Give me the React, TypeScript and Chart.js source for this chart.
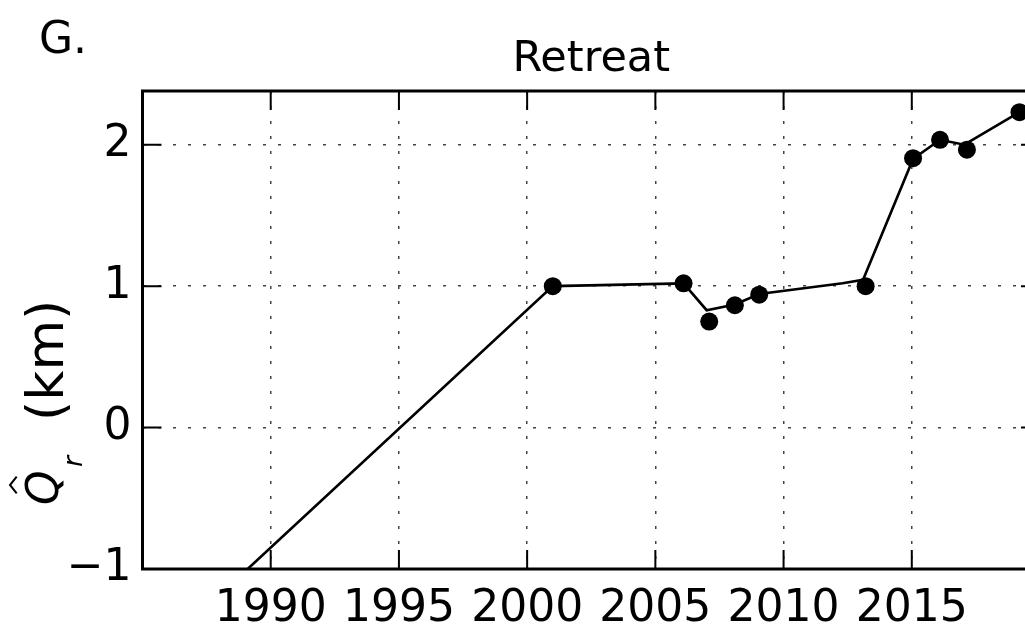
import React, { useEffect, useRef } from "react";
import { Chart, registerables } from "chart.js";

Chart.register(...registerables);

// ---- data ----
const lineYears = [1989.1, 2001, 2006.1, 2007.0, 2008.1, 2009.05, 2012.3, 2013.1, 2015.05, 2016.1, 2017.05, 2019.2];
const lineValues = [-1.0, 1.0, 1.02, 0.83, 0.87, 0.945, 1.02, 1.045, 1.9, 2.035, 2.0, 2.23];
const markerYears = [2001, 2006.1, 2007.1, 2008.1, 2009.05, 2013.2, 2015.05, 2016.1, 2017.15, 2019.2];
const markerValues = [1.0, 1.02, 0.75, 0.865, 0.94, 1.0, 1.905, 2.035, 1.965, 2.23];
const xTicks = [1990, 1995, 2000, 2005, 2010, 2015];
const yTicks = [-1, 0, 1, 2];
const xRange = [1985, 2020];
const yRange = [-1, 2.38];
const titleText = "Retreat";
const panelLabel = "G.";
const yLabelSymbol = "Q";
const yLabelSub = "r";
const yLabelUnit = "(km)";

const FONT = '"DejaVu Sans", sans-serif';

const decorPlugin = {
  id: "decor",
  afterDatasetsDraw(chart: any) {
    const { ctx, chartArea: a, scales } = chart;
    ctx.save();
    ctx.strokeStyle = "#000";
    ctx.setLineDash([]);
    const tl = 19;
    ctx.lineWidth = 2;
    ctx.beginPath();
    for (const v of xTicks) {
      const px = scales.x.getPixelForValue(v);
      ctx.moveTo(px, a.bottom);
      ctx.lineTo(px, a.bottom - tl);
      ctx.moveTo(px, a.top);
      ctx.lineTo(px, a.top + tl);
    }
    for (const v of yTicks) {
      const py = scales.y.getPixelForValue(v);
      ctx.moveTo(a.left, py);
      ctx.lineTo(a.left + tl, py);
      ctx.moveTo(a.right, py);
      ctx.lineTo(a.right - tl, py);
    }
    ctx.stroke();
    ctx.lineWidth = 3;
    ctx.strokeRect(a.left, a.top, a.right - a.left, a.bottom - a.top);
    ctx.restore();
  },
  afterDraw(chart: any) {
    const { ctx } = chart;
    ctx.save();
    ctx.fillStyle = "#000";
    ctx.strokeStyle = "#000";
    ctx.textAlign = "left";
    ctx.textBaseline = "alphabetic";
    // panel label
    ctx.font = `44px ${FONT}`;
    ctx.fillText(panelLabel, 39, 52.5);
    // y axis title (rotated)
    ctx.translate(63, 505);
    ctx.rotate(-Math.PI / 2);
    ctx.font = `italic 44px ${FONT}`;
    ctx.fillText(yLabelSymbol, 0, -5);
    ctx.font = `italic 27px ${FONT}`;
    ctx.fillText(yLabelSub, 38, 18.7);
    ctx.font = `52px ${FONT}`;
    ctx.fillText(yLabelUnit, 84, 0);
    ctx.lineWidth = 2;
    ctx.beginPath();
    ctx.moveTo(11.7, -46.3);
    ctx.lineTo(20, -53);
    ctx.lineTo(28.3, -46.3);
    ctx.stroke();
    ctx.restore();
  },
};

export default function App() {
  const ref = useRef<HTMLCanvasElement | null>(null);

  useEffect(() => {
    if (!ref.current) return;
    const chart = new Chart(ref.current, {
      type: "line",
      data: {
        datasets: [
          {
            label: "fit",
            data: lineYears.map((x, i) => ({ x, y: lineValues[i] })),
            borderColor: "#000",
            borderWidth: 2.6,
            pointRadius: 0,
            tension: 0,
            fill: false,
          },
          {
            label: "obs",
            data: markerYears.map((x, i) => ({ x, y: markerValues[i] })),
            showLine: false,
            pointRadius: 9,
            pointBackgroundColor: "#000",
            pointBorderColor: "#000",
            pointBorderWidth: 0,
            borderColor: "#000",
          },
        ],
      },
      options: {
        animation: false,
        responsive: false,
        devicePixelRatio: 1,
        layout: { padding: { top: 0, left: 0, right: 20, bottom: 0 } },
        plugins: {
          legend: { display: false },
          tooltip: { enabled: false },
          title: {
            display: true,
            text: titleText,
            fullSize: false,
            color: "#000",
            font: { family: FONT, size: 43, weight: "normal", lineHeight: 1.2 },
            padding: { top: 34, bottom: 5.4 },
          },
        },
        scales: {
          x: {
            type: "linear",
            min: xRange[0],
            max: xRange[1],
            afterBuildTicks: (s: any) => {
              s.ticks = xTicks.map((value) => ({ value }));
            },
            afterFit: (s: any) => {
              s.height = 56;
            },
            ticks: {
              color: "#000",
              padding: 14,
              maxRotation: 0,
              autoSkip: false,
              font: { family: FONT, size: 44, lineHeight: 1.2 },
              callback: (v: any) => String(v),
            },
            grid: { color: "#444", lineWidth: 1.5, drawTicks: false },
            border: { display: false, dash: [3, 12] },
          },
          y: {
            type: "linear",
            min: yRange[0],
            max: yRange[1],
            afterBuildTicks: (s: any) => {
              s.ticks = yTicks.map((value) => ({ value }));
            },
            afterFit: (s: any) => {
              s.width = 142.5;
            },
            ticks: {
              color: "#000",
              padding: 11,
              autoSkip: false,
              font: { family: FONT, size: 44, lineHeight: 1.2 },
              callback: (v: any) => (v < 0 ? "\u2212" + Math.abs(v) : String(v)),
            },
            grid: { color: "#444", lineWidth: 1.5, drawTicks: false },
            border: { display: false, dash: [3, 12] },
          },
        },
      },
      plugins: [decorPlugin],
    } as any);
    return () => chart.destroy();
  }, []);

  return (
    <div
      style={{
        position: "absolute",
        left: 0,
        top: 0,
        width: 1025,
        height: 625,
        overflow: "hidden",
        background: "#fff",
      }}
    >
      <canvas ref={ref} width={1060} height={625} style={{ display: "block" }} />
    </div>
  );
}
